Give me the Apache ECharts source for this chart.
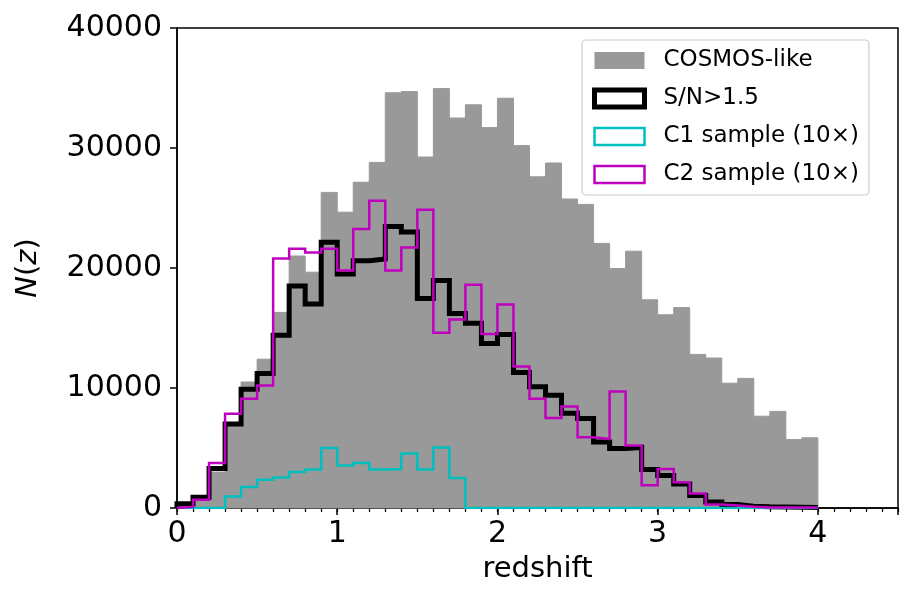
<!DOCTYPE html>
<html>
<head>
<meta charset="utf-8">
<script src="https://cdn.jsdelivr.net/npm/echarts@6/dist/echarts.min.js"></script>
<style>
  html, body { margin: 0; padding: 0; background: #fff; }
  #chart { width: 920px; height: 609px; }
</style>
</head>
<body>
<div id="chart"></div>
<script>
// redshift bins, width 0.1, from 0 to 4
const binWidth = 0.1;
const nBins = 40;
const binEdges = Array.from({ length: nBins + 1 }, (_, i) => +(i * binWidth).toFixed(1));

// counts per bin
const cosmosLike = [
  300, 800, 3000, 6900, 10500, 12400, 16300, 21000, 19650, 26300,
  24650, 27150, 28800, 34600, 34700, 29250, 34950, 32500, 33600, 31700,
  34150, 30200, 27600, 28750, 25750, 25300, 22050, 19950, 21400, 17350,
  16100, 16700, 12800, 12500, 10400, 10800, 7650, 8050, 5700, 5850
];
const snCut = [
  350, 900, 3300, 7000, 9900, 11200, 14400, 18500, 17000, 22150,
  19500, 20600, 20750, 23450, 23000, 17450, 18950, 16200, 15400, 13700,
  14450, 11300, 10100, 9400, 7900, 7450, 5500, 4950, 5050, 3200,
  2700, 2000, 1050, 500, 300, 150, 100, 80, 60, 50
];
const c1Sample = [
  0, 0, 0, 950, 1750, 2350, 2550, 3000, 3200, 5000,
  3550, 3750, 3200, 3250, 4550, 3200, 5050, 2500, 0, 0,
  0, 0, 0, 0, 0, 0, 0, 0, 0, 0,
  0, 0, 0, 0, 0, 0, 0, 0, 0, 0
];
const c2Sample = [
  100, 680, 3750, 7850, 9100, 10200, 20800, 21600, 21300, 21600,
  19800, 23250, 25600, 19800, 21700, 24850, 14600, 15700, 18600, 14500,
  16950, 11800, 9100, 7500, 8450, 5900, 5750, 9700, 5200, 1900,
  3250, 2150, 1200, 300, 200, 100, 50, 50, 50, 50
];

const xTicks = [0, 1, 2, 3, 4];
const yTicks = [0, 10000, 20000, 30000, 40000];

const FONT = 'DejaVu Sans';

// outline of a step histogram: up from 0 at the first edge, down to 0 at the last
function stepLine(values) {
  const pts = [[binEdges[0], 0]];
  values.forEach((v, i) => pts.push([binEdges[i], v]));
  pts.push([binEdges[values.length], 0]);
  return pts;
}

const chart = echarts.init(document.getElementById('chart'), null, { renderer: 'canvas' });

const option = {
  animation: false,
  backgroundColor: '#fff',
  textStyle: { fontFamily: FONT },
  grid: {
    left: 177, right: 22, top: 28, bottom: 101,
    show: true, borderColor: '#000', borderWidth: 1.5,
    backgroundColor: 'transparent'
  },
  legend: {
    orient: 'vertical',
    left: 582, top: 40,
    padding: [9, 10, 9, 10],
    itemWidth: 50, itemHeight: 17, itemGap: 15,
    backgroundColor: 'rgba(255,255,255,0.8)',
    borderColor: '#cccccc', borderWidth: 1.2, borderRadius: 4,
    textStyle: { fontFamily: FONT, fontSize: 23, lineHeight: 23, color: '#000', padding: [0, 0, 0, 14] },
    data: [
      { name: 'COSMOS-like', icon: 'rect', itemStyle: { color: '#999999', borderWidth: 0 } },
      { name: 'S/N>1.5', icon: 'rect', itemStyle: { color: '#fff', borderColor: '#000', borderWidth: 5 } },
      { name: 'C1 sample (10×)', icon: 'rect', itemStyle: { color: '#fff', borderColor: '#00bfbf', borderWidth: 2.5 } },
      { name: 'C2 sample (10×)', icon: 'rect', itemStyle: { color: '#fff', borderColor: '#bf00bf', borderWidth: 2.5 } }
    ]
  },
  xAxis: [
    {
      type: 'value', min: 0, max: 4.5, interval: 1,
      name: 'redshift', nameLocation: 'middle', nameGap: 47,
      nameTextStyle: { fontFamily: FONT, fontSize: 29, color: '#000' },
      axisLine: { onZero: false, lineStyle: { color: '#000', width: 1.5 } },
      axisTick: { show: true, length: 7, inside: false, lineStyle: { color: '#000', width: 1.5 } },
      axisLabel: {
        fontFamily: FONT, fontSize: 30, color: '#000', margin: 11,
        formatter: v => (xTicks.includes(v) ? String(v) : '')
      },
      splitLine: { show: false }
    },
    {
      // minor ticks every 0.1
      type: 'value', min: 0, max: 4.5, interval: binWidth, position: 'bottom',
      axisLine: { show: false },
      axisTick: { show: true, length: 4, lineStyle: { color: '#000', width: 1.2 } },
      axisLabel: { show: false },
      splitLine: { show: false }
    }
  ],
  yAxis: {
    type: 'value', min: 0, max: 40000, interval: 10000,
    name: '{i|N}({i|z})', nameLocation: 'middle', nameGap: 134, nameRotate: 90,
    nameTextStyle: {
      fontFamily: FONT, fontSize: 29, color: '#000',
      rich: { i: { fontFamily: FONT, fontSize: 29, fontStyle: 'italic', color: '#000' } }
    },
    axisLine: { show: true, lineStyle: { color: '#000', width: 1.5 } },
    axisTick: { show: true, length: 7, lineStyle: { color: '#000', width: 1.5 } },
    axisLabel: {
      fontFamily: FONT, fontSize: 30, color: '#000', margin: 15,
      formatter: v => (yTicks.includes(v) ? String(v) : '')
    },
    splitLine: { show: false }
  },
  series: [
    {
      name: 'COSMOS-like',
      type: 'custom',
      xAxisIndex: 0,
      encode: { x: [0, 1], y: 2 },
      data: cosmosLike.map((v, i) => [binEdges[i], binEdges[i + 1], v]),
      renderItem: function (params, api) {
        const p0 = api.coord([api.value(0), api.value(2)]);
        const p1 = api.coord([api.value(1), 0]);
        return {
          type: 'rect',
          shape: { x: p0[0], y: p0[1], width: p1[0] - p0[0], height: p1[1] - p0[1] },
          style: { fill: '#999999', stroke: '#999999', lineWidth: 1 }
        };
      },
      z: 1
    },
    {
      name: 'S/N>1.5', type: 'line', step: 'end', xAxisIndex: 0,
      showSymbol: false, symbol: 'none',
      lineStyle: { color: '#000', width: 5, join: 'miter' },
      itemStyle: { color: '#000' },
      data: stepLine(snCut), z: 2
    },
    {
      name: 'C1 sample (10×)', type: 'line', step: 'end', xAxisIndex: 0,
      showSymbol: false, symbol: 'none',
      lineStyle: { color: '#00bfbf', width: 2.5, join: 'miter' },
      itemStyle: { color: '#00bfbf' },
      data: stepLine(c1Sample), z: 3
    },
    {
      name: 'C2 sample (10×)', type: 'line', step: 'end', xAxisIndex: 0,
      showSymbol: false, symbol: 'none',
      lineStyle: { color: '#bf00bf', width: 2.5, join: 'miter' },
      itemStyle: { color: '#bf00bf' },
      data: stepLine(c2Sample), z: 4
    }
  ]
};

chart.setOption(option);
</script>
</body>
</html>
